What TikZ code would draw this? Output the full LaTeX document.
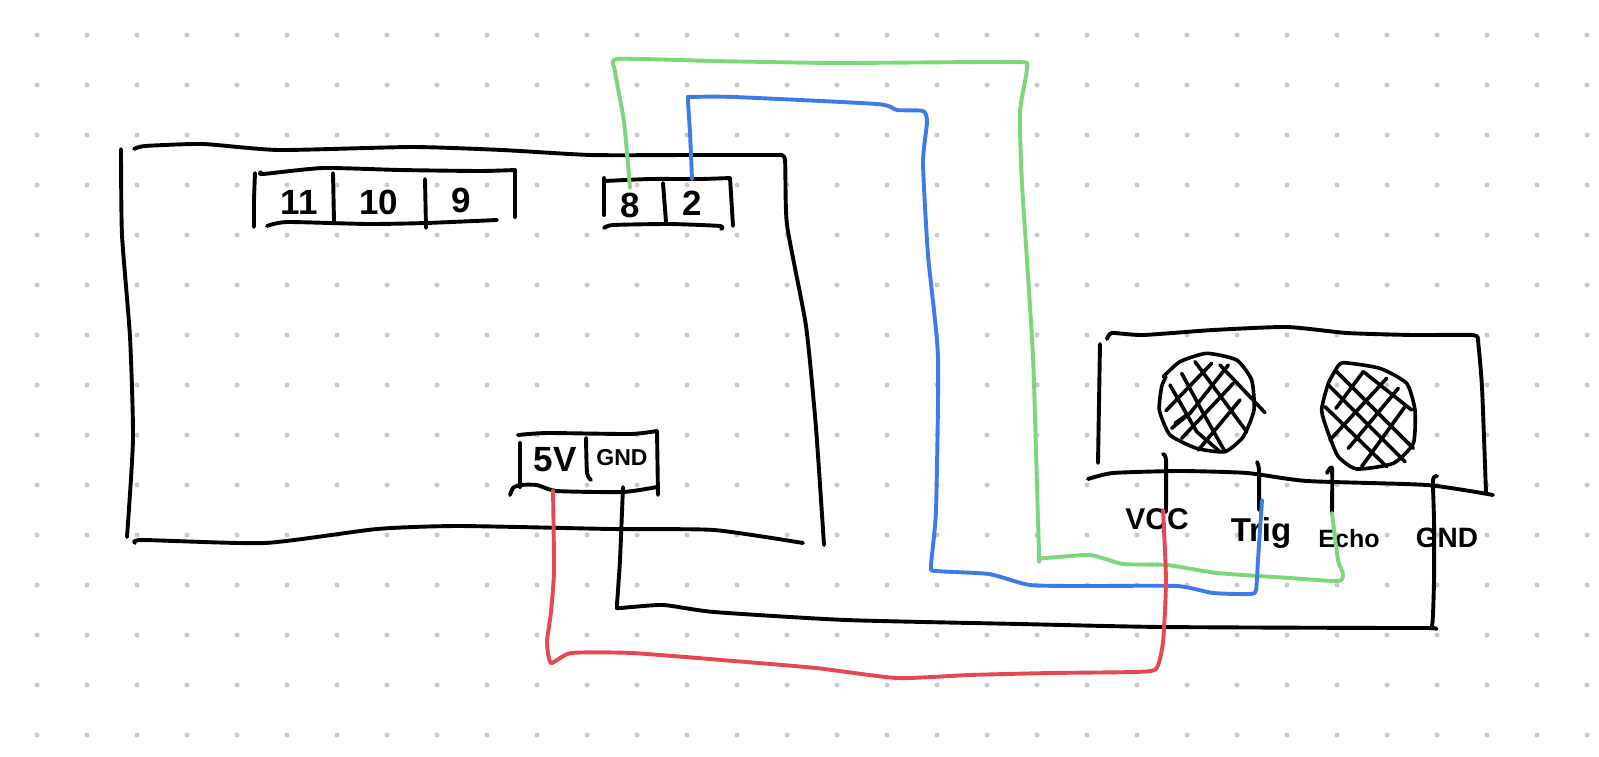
\documentclass[tikz,border=0pt]{standalone}
\usepackage{fontspec}
\setmainfont{Liberation Sans}
\newcommand{\sk}[2]{\draw[#1] plot[smooth,tension=.35] coordinates {#2};}
\tikzset{
  ink/.style={draw=black,line width=3.9pt,line cap=round,line join=round},
  thin ink/.style={draw=black,line width=3.6pt,line cap=round,line join=round},
  greenwire/.style={ink,draw=wgreen},
  bluewire/.style={ink,draw=wblue},
  redwire/.style={ink,draw=wred},
  griddot/.style={fill=dotgray,draw=none},
  hand/.style={inner sep=0pt,text=black}
}
\definecolor{wgreen}{HTML}{7BD77A}
\definecolor{wblue}{HTML}{3D7BEA}
\definecolor{wred}{HTML}{E8474F}
\definecolor{dotgray}{HTML}{C9C9C9}
\newcommand{\fs}[1]{\fontsize{#1}{#1}\selectfont\bfseries}
\begin{document}
\begin{tikzpicture}[x=1pt,y=-1pt]
\useasboundingbox (0,0) rectangle (1599,756);
\fill[white] (0,0) rectangle (1599,756);
\foreach \i in {0,...,31}{\foreach \j in {0,...,14}{
  \fill[griddot] ({37+50*\i},{35+50*\j}) circle (2.5);}}

% Board
\sk{ink}{(121,149) (122,235) (130,337) (133,439) (127,537)}
\sk{ink}{(134,149) (145,146) (203,144) (279,150) (412,147) (502,150) (591,155) (690,155) (779,155)}
\sk{ink}{(779,155) (785,160) (787,225) (806,326) (816,428) (824,545)}
\sk{ink}{(135,543) (143,540) (265,543) (377,529) (459,526) (612,529) (714,530) (803,543)}

% Header 11 10 9
\sk{ink}{(255,173) (254,200) (254,227)}
\sk{ink}{(261,172) (263,174) (323,168) (400,170) (480,171) (515,170)}
\draw[ink] (515,170) -- (515,217);
\sk{ink}{(267,226) (287,222) (368,224) (426,223) (497,220)}
\draw[ink] (333,173) -- (334,221);
\draw[ink] (425,179) -- (426,228);
\node[hand,font=\fs{35}] (n11) at (299,202) {11};
\node[hand,font=\fs{35}] (n10) at (379,202) {10};
\node[hand,font=\fs{35}] (n9) at (461,200) {9};

% Header 8 2
\draw[ink] (604,178) -- (604,215);
\sk{ink}{(604,181) (650,179) (700,179) (730,178)}
\draw[ink] (730,178) -- (733,226);
\sk{ink}{(604,228) (613,225) (670,224) (720,226) (721,229)}
\draw[ink] (663,183) -- (666,222);
\node[hand,font=\fs{35}] (n8) at (630,205) {8};
\node[hand,font=\fs{35}] (n2) at (692,203) {2};
\coordinate (pin8) at (630,188);
\coordinate (pin2) at (692,179);

% Power header
\draw[ink] (520,443) -- (520,487);
\sk{ink}{(518,435) (547,433) (630,434) (657,431)}
\draw[ink] (657,431) -- (658,495);
\sk{ink}{(510,495) (513,488) (520,485) (537,485) (557,491) (623,492) (657,487)}
\sk{ink}{(586,438) (587,473) (591,480)}
\node[hand,font=\fs{35}] (nfive) at (555,460) {5V};
\node[hand,font=\fs{23}] (ngnd) at (622,458) {GND};
\coordinate (pinV) at (553,490);
\coordinate (pinG) at (623,487);

% Sensor module
\draw[ink] (1100,344) -- (1098,463);
\sk{ink}{(1107,339) (1112,333) (1143,335) (1213,330) (1287,327) (1347,333) (1413,335) (1473,335) (1478,340)}
\sk{ink}{(1478,340) (1482,387) (1486,493)}
\sk{ink}{(1088,479) (1113,473) (1180,471) (1247,473) (1307,481) (1427,485) (1493,495)}

% Left transducer
\begin{scope}[shift={(1080,320)},x=.3333pt,y=-.3333pt]
\sk{thin ink}{(250,170) (300,125) (380,100) (470,120) (515,180) (522,270) (490,350) (435,395) (350,385) (270,345) (238,270) (245,200) (258,170)}
\draw[thin ink] (258,272) -- (395,130);
\draw[thin ink] (275,325) -- (330,280) -- (445,135);
\draw[thin ink] (285,310) -- (320,285);
\draw[thin ink] (305,355) -- (460,190);
\draw[thin ink] (355,390) -- (480,240);
\draw[thin ink] (345,125) -- (500,335);
\draw[thin ink] (420,135) -- (555,278);
\draw[thin ink] (305,160) -- (370,280) -- (435,395);
\draw[thin ink] (270,195) -- (350,335) -- (420,395);
\end{scope}
% Right transducer
\begin{scope}[shift={(1080,320)},x=.3333pt,y=-.3333pt]
\sk{thin ink}{(770,145) (790,128) (900,145) (980,190) (1005,270) (1000,370) (940,430) (830,447) (775,410) (745,340) (725,270) (745,190) (770,145)}
\draw[thin ink] (768,265) -- (850,155);
\draw[thin ink] (750,360) -- (920,175);
\draw[thin ink] (805,385) -- (955,205);
\draw[thin ink] (845,440) -- (975,260);
\draw[thin ink] (770,155) -- (1000,385);
\draw[thin ink] (745,195) -- (975,425);
\draw[thin ink] (735,260) -- (920,440);
\draw[thin ink] (850,155) -- (995,270);
\end{scope}

% Pin labels
\node[hand,font=\fs{30}] (lvcc) at (1157,519) {VCC};
\node[hand,font=\fs{33},anchor=base] (ltrig) at (1261,541) {Trig};
\node[hand,font=\fs{25},anchor=base] (lecho) at (1349,547) {Echo};
\node[hand,font=\fs{28}] (lgnd) at (1447,538) {GND};

% Sensor pins
\coordinate (vcc) at (1163,510);
\coordinate (trig) at (1262,500);
\coordinate (echo) at (1332,513);
\coordinate (sgnd) at (1437,476);
\sk{ink}{(1163,454) (1166,460) (1166,512)}
\sk{ink}{(1257,462) (1259,470) (1259,510)}
\sk{ink}{(1327,473) (1332,468) (1332,512)}

% Wires
\sk{ink}{(pinG) (620,560) (618,590) (617,607) (620,608) (663,605) (714,612) (846,620) (1020,624) (1163,627) (1422,628) (1432,626) (1434,580) (1434,520) (1433,480) (sgnd)}
\sk{greenwire}{(pin8) (624,122) (615,71) (618,59) (714,61) (836,63) (1014,62) (1027,67) (1020,112) (1022,184) (1033,357) (1039,551) (1042,558) (1090,555) (1123,564) (1167,565) (1217,573) (1290,578) (1338,581) (1343,574) (1338,560) (echo)}
\sk{bluewire}{(pin2) (690,133) (688,99) (691,97) (734,97) (877,104) (897,110) (923,111) (927,122) (923,163) (928,255) (938,357) (936,510) (931,566) (936,571) (989,574) (1030,585) (1090,586) (1177,586) (1213,593) (1250,594) (1256,590) (1258,560) (trig)}
\sk{redwire}{(pinV) (554,571) (551,612) (547,642) (551,663) (571,653) (632,653) (734,661) (816,668) (897,678) (969,675) (1050,673) (1132,672) (1156,669) (1163,642) (1166,581) (vcc)}
\end{tikzpicture}
\end{document}
